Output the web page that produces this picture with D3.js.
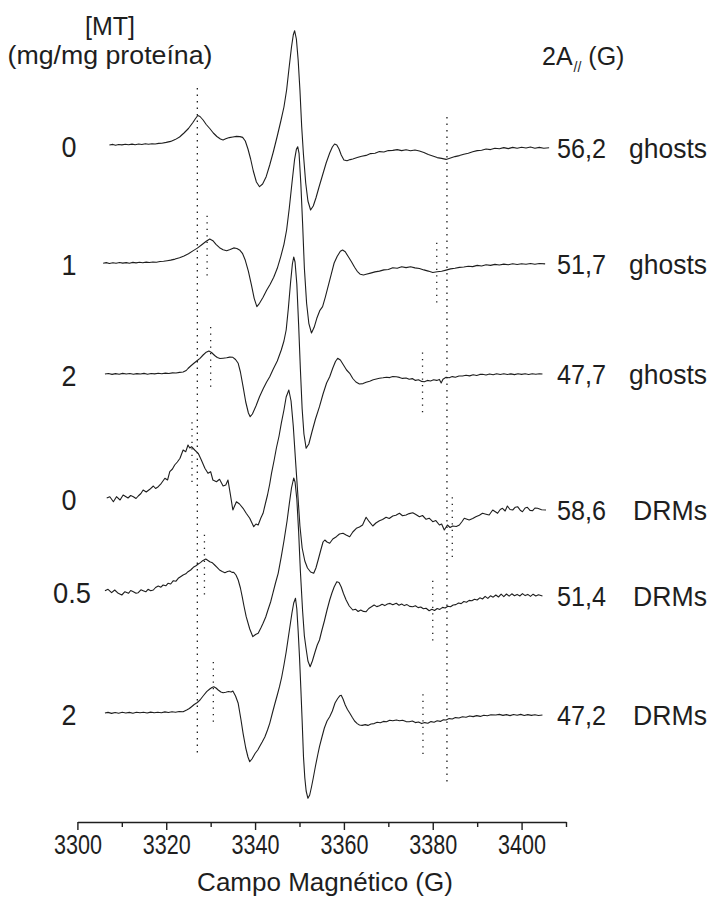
<!DOCTYPE html>
<html>
<head>
<meta charset="utf-8">
<script src="https://cdn.jsdelivr.net/npm/d3@7"></script>
<style>
  html, body { margin: 0; padding: 0; background: #fff; }
  svg { display: block; }
  text { font-family: "Liberation Sans", Arial, Helvetica, sans-serif; fill: #1e1e1e; }
</style>
</head>
<body>
<svg id="chart" width="710" height="899"></svg>
<script>
// EPR spectra of the spin label: [field (G), intensity (a.u., relative to each spectrum's baseline)]
const ghosts0 = [
  [3307.2,0],[3308,0.6],[3308.6,-0.3],[3309.3,0.5],[3310,0.1],[3310.8,0.8],[3311.5,0.2],[3312.3,0.9],[3313,0.3],[3313.8,1],
  [3314.5,0.5],[3315.3,1.2],[3316,0.7],[3316.8,1.3],[3317.5,1],[3318.3,1.6],[3319,1.8],[3320,2.6],[3321,3.6],[3322,5.4],
  [3323,8],[3324,12],[3325,16.5],[3326,22.5],[3326.6,26.5],[3327.1,29.5],[3327.6,28.5],[3328.3,25],[3329,20.5],[3329.8,16.5],
  [3330.6,12],[3331.4,8.5],[3332.2,6],[3332.8,5],[3333.4,6.2],[3334.2,7.4],[3335,8],[3335.8,8.6],[3336.6,8.4],[3337.2,7.6],
  [3337.8,4],[3338.4,-4],[3339,-14],[3339.6,-26],[3340.3,-37],[3341,-41.7],[3341.7,-39],[3342.5,-31.7],[3343.3,-20],[3344.1,-7],
  [3345,9],[3345.8,24],[3346.5,38],[3347.1,55],[3347.6,75],[3348.2,98],[3348.6,110],[3348.9,114.3],[3349.3,106],[3349.7,85],
  [3350.1,55],[3350.5,18],[3350.9,-10],[3351.4,-38],[3351.9,-56],[3352.5,-65],[3353.1,-61],[3353.7,-53],[3354.4,-42],[3355.2,-30],
  [3356,-18],[3356.8,-8],[3357.4,-2],[3357.9,1],[3358.4,0],[3358.9,-4],[3359.4,-10],[3360,-15],[3360.7,-15.7],[3361.4,-14.6],
  [3362,-14],[3363,-12.6],[3364,-11.2],[3365,-10.4],[3366,-8.6],[3367,-8.2],[3368,-6.6],[3369,-7],[3370,-5.6],[3371,-5.4],
  [3372,-4.6],[3373,-5.6],[3374,-4.8],[3375,-5.8],[3376,-5],[3377,-6],[3378,-7.4],[3379,-9.6],[3380,-11],[3381,-12.6],
  [3382,-13.4],[3383,-14.4],[3384,-13],[3385,-11.6],[3386,-10.6],[3387,-9.2],[3388,-8.2],[3389,-6.8],[3390,-5.6],[3391,-5.2],
  [3392,-4],[3393,-4.6],[3394,-3.2],[3395,-3.8],[3396,-2.6],[3397,-3.6],[3398,-2.4],[3399,-3.2],[3400,-2.2],[3401,-3],
  [3402,-2],[3403,-3.2],[3404,-2.4],[3405,-3.2],[3406.2,-2.8]
];
const ghosts1 = [
  [3305.8,0],[3306.5,0.7],[3307.2,-0.2],[3308,0.6],[3308.7,0],[3309.5,0.8],[3310.2,0.2],[3311,0.7],[3311.7,0.1],[3312.5,0.9],
  [3313.2,0.4],[3314,1],[3314.7,0.5],[3315.5,1.2],[3316.2,0.8],[3317,1.3],[3317.8,1.1],[3318.6,1.8],[3319.4,2],[3320.2,2.6],
  [3321,3.2],[3322,4.2],[3323,5.6],[3324,7.4],[3325,9.6],[3326,12.4],[3327,15.2],[3328,18.6],[3329,22],[3329.8,24.3],
  [3330.5,22.6],[3331.2,19],[3332,15.6],[3332.8,13.6],[3333.6,12.6],[3334.4,13.8],[3335.2,15.4],[3335.9,14.8],[3336.6,13],[3337.2,9.6],
  [3337.8,3],[3338.5,-8],[3339.2,-22],[3339.8,-35],[3340.4,-43.4],[3341,-40],[3341.8,-34],[3342.6,-27],[3343.4,-21],[3344.2,-14],
  [3345,-5],[3345.8,7],[3346.5,19],[3347.1,33.3],[3347.7,55],[3348.3,80],[3348.9,104],[3349.3,114],[3349.6,116.6],[3349.9,110],
  [3350.3,80],[3350.7,40],[3351.1,-5],[3351.6,-40],[3352.1,-60],[3352.7,-69.7],[3353.3,-64],[3353.9,-55],[3354.6,-47],[3355.2,-43.4],
  [3355.8,-34],[3356.5,-22],[3357.2,-10],[3357.8,0.3],[3358.5,7],[3359.2,12],[3359.7,13.3],[3360.3,11.5],[3361,6.5],[3361.7,1.5],
  [3362.4,-4],[3363,-8],[3363.7,-11],[3364.4,-11.7],[3365,-11],[3366,-9.8],[3367,-8.6],[3368,-7.8],[3369,-6.6],[3370,-6.2],
  [3371,-4.4],[3372,-4.9],[3373,-3.5],[3374,-4.3],[3375,-3.4],[3376,-4.6],[3377,-5.2],[3378,-6.6],[3379,-7.8],[3380,-9.2],
  [3381,-8.4],[3382,-7.9],[3383,-6.8],[3384,-5.6],[3385,-5],[3386,-4.1],[3387,-3.7],[3388,-2.9],[3389,-3.3],[3390,-2.1],
  [3391,-2.7],[3392,-1.5],[3393,-2.1],[3394,-1.1],[3395,-1.7],[3396,-0.8],[3397,-1.5],[3398,-0.5],[3399,-1.2],[3400,-0.4],
  [3401,-1],[3402,-0.2],[3403,-1],[3404,-0.2],[3405.3,-0.6]
];
const ghosts2 = [
  [3306.2,0],[3307,0.5],[3307.8,-0.4],[3308.6,0.4],[3309.4,-0.2],[3310.2,0.6],[3311,0],[3311.8,0.5],[3312.6,-0.3],[3313.4,0.4],
  [3314.2,0],[3315,0.6],[3315.8,-0.2],[3316.6,0.5],[3317.4,0.1],[3318.2,0.7],[3319,0.2],[3319.8,0.9],[3320.6,0.5],[3321.4,1.1],
  [3322.2,1],[3323,1.6],[3323.8,2],[3324.5,3.5],[3324.9,5.5],[3325.5,8],[3326.3,11],[3327,13.5],[3327.6,15.7],[3328.3,19],
  [3329,21.8],[3329.6,23],[3330.2,21.5],[3330.9,18.5],[3331.5,16.5],[3332.1,15.5],[3332.8,15.8],[3333.6,16.2],[3334.3,16.9],[3335,16.7],
  [3335.6,14.5],[3336.2,10.7],[3336.7,2],[3337.3,-12.7],[3337.9,-28],[3338.5,-39],[3338.9,-42.7],[3339.4,-40],[3340.2,-32],[3341,-22.7],
  [3341.8,-15],[3342.6,-8],[3343.3,-2.7],[3344.1,5],[3345,13],[3345.9,24],[3346.5,33],[3347,44],[3347.5,66],[3348,92],
  [3348.4,110],[3348.7,117],[3349,112],[3349.4,90],[3349.8,50],[3350.2,5],[3350.6,-35],[3351,-60],[3351.5,-74.3],[3352.1,-70],
  [3352.8,-58],[3353.6,-45],[3354.5,-32.7],[3355.3,-20],[3356.1,-9],[3356.8,-2.7],[3357.5,6],[3358.1,12.5],[3358.6,15.7],[3359.2,14],
  [3359.9,9],[3360.6,4],[3361.3,0.7],[3362,-4.5],[3362.7,-8],[3363.5,-10],[3364.3,-9.6],[3365,-8.2],[3365.8,-7.2],[3366.6,-5.8],
  [3367.3,-5],[3368,-4.3],[3368.8,-3.8],[3369.6,-3.2],[3370.3,-3.6],[3371,-2.6],[3371.8,-2.7],[3372.5,-3.4],[3373.2,-4.4],[3374,-4],
  [3374.7,-5.3],[3375.4,-4.6],[3376.1,-6.4],[3376.8,-5.8],[3377.5,-7.4],[3378.1,-7.7],[3378.8,-6.4],[3379.5,-7],[3380.2,-5.8],[3380.9,-6.4],
  [3381.5,-5.4],[3381.9,-9],[3382.3,-5.2],[3383,-3.3],[3383.7,-3.8],[3384.4,-2.6],[3385.1,-3.2],[3385.9,-2],[3386.7,-2],[3387.5,-1.2],
  [3388.3,-1.9],[3389.1,-0.8],[3389.9,-1.5],[3390.6,-0.4],[3391.2,-0.3],[3392,-1],[3392.8,0],[3393.6,-0.7],[3394.4,0.2],[3395.2,-0.5],
  [3396,0.3],[3396.8,-0.5],[3397.6,0.1],[3398.4,-0.6],[3399.2,0.2],[3400,-0.4],[3400.8,0.3],[3401.6,-0.5],[3402.4,0.2],[3403.2,-0.3],
  [3404,0.3],[3404.7,0]
];
const drms0 = [
  [3306.6,0],[3307.3,1.3],[3308.1,-3.7],[3308.8,1.3],[3309.6,-2],[3310.3,3],[3311.4,0],[3312,2.5],[3312.6,1.3],[3313.2,-0.5],
  [3313.7,2],[3314.3,4.5],[3314.8,8],[3315.5,6],[3316.3,8.7],[3317.1,12],[3317.6,9.5],[3318.2,11.3],[3318.9,14.7],[3319.7,19.7],
  [3320.3,18],[3320.8,26.3],[3321.4,29],[3321.9,33],[3322.5,36],[3323.1,39.7],[3323.8,48],[3324.4,46.3],[3324.9,53],[3325.3,50],
  [3325.7,51.3],[3326.4,48],[3327.2,44.7],[3327.9,38],[3328.7,29.7],[3329.4,24.7],[3330,26.3],[3330.5,18],[3331.3,16.3],[3332,18.7],
  [3332.8,12],[3333.4,13],[3333.9,18],[3334.4,4.7],[3335,-12],[3335.8,-3.7],[3336.5,-6],[3337.3,-10.3],[3338,-15.3],[3338.8,-20.3],
  [3339.7,-28.7],[3340.2,-26],[3340.7,-27],[3341.3,-20],[3341.8,-15.3],[3342.3,-6],[3342.8,3],[3343.3,14],[3343.7,24.7],[3344.3,38],
  [3344.8,50],[3345.4,62],[3345.9,74.7],[3346.5,88],[3347,101],[3347.6,108],[3348.1,97],[3348.6,72],[3349.1,38],[3349.6,5],
  [3350.1,-28],[3350.6,-50],[3351.2,-63],[3351.8,-70],[3352.5,-74],[3353.2,-75.3],[3353.7,-70],[3354.2,-62],[3354.8,-52],[3355.3,-44],
  [3355.7,-42],[3356.2,-44],[3356.8,-45.3],[3357.5,-41],[3358.3,-38.7],[3359,-36],[3359.8,-35.3],[3360.5,-37],[3361.3,-38.7],[3362,-34],
  [3362.8,-30.3],[3363.5,-29],[3364.2,-27],[3364.6,-23],[3365,-19.3],[3365.7,-23.7],[3366.5,-28],[3367.2,-25],[3368,-22.7],[3368.7,-21.5],
  [3369.5,-19.3],[3370.2,-20.5],[3371,-18],[3371.7,-17.2],[3372.5,-15.3],[3373.2,-17.8],[3374,-17],[3374.7,-15.6],[3375.5,-14.7],[3376.2,-16.5],
  [3377,-18.7],[3377.7,-17.5],[3378.5,-21.3],[3379.2,-20.2],[3380,-23.7],[3380.7,-22.6],[3381.5,-27],[3382,-26],[3382.6,-32],[3383.3,-27],
  [3383.9,-29.5],[3384.5,-28],[3385.3,-28.5],[3386,-27],[3386.6,-23.5],[3387.1,-20.3],[3388.2,-22],[3389,-20.5],[3389.7,-18.7],[3390.5,-17.2],
  [3391.2,-15.3],[3392,-16.2],[3392.7,-17],[3393.5,-12],[3394.6,-15.3],[3395.2,-11.5],[3395.7,-10.3],[3396.3,-13],[3396.8,-8],[3397.4,-11.5],
  [3398,-12],[3398.6,-9.2],[3399.1,-8.7],[3399.7,-12.2],[3400.2,-13.7],[3400.8,-10],[3401.3,-9.3],[3401.9,-12.4],[3402.5,-12.7],[3403,-10],
  [3403.6,-10.3],[3404.5,-11.8],[3405.5,-12]
];
const drms05 = [
  [3306.2,0.3],[3306.9,1.7],[3307.7,-1.7],[3308.4,1],[3309.2,-2.3],[3310,-4],[3310.7,-0.7],[3311.5,-2.3],[3312,0.5],[3312.6,-0.7],
  [3313.2,-2.2],[3313.7,-1.7],[3314.3,1.2],[3314.8,0.3],[3315.4,-0.8],[3315.9,1.7],[3316.5,0.2],[3317.1,1],[3317.6,3.5],[3318.2,5],
  [3318.8,3.8],[3319.3,6],[3319.9,5.2],[3320.4,7.7],[3321,7],[3321.6,10.3],[3322.2,9.8],[3322.7,12.7],[3323.3,14.5],[3323.8,16],
  [3324.4,17.2],[3324.9,19.3],[3325.5,21],[3326.1,23.7],[3326.7,25.2],[3327.2,27],[3327.7,28.4],[3328.2,30.3],[3328.9,32],[3329.4,30.5],
  [3329.8,29.3],[3330.4,28.2],[3330.9,26],[3331.5,23.4],[3332,21],[3332.6,19.5],[3333.2,18.3],[3333.8,19.5],[3334.3,20],[3334.8,18.6],
  [3335.2,18.7],[3335.7,16],[3336.2,11],[3336.7,3],[3337.1,-5.7],[3337.5,-15],[3338,-25.7],[3338.8,-38],[3339.5,-45.7],[3340.1,-43.5],
  [3340.7,-42.3],[3341.3,-37],[3341.8,-32.3],[3342.4,-26],[3342.9,-19],[3343.5,-11],[3344,-2.3],[3344.6,8],[3345.2,17.7],[3345.9,34.3],
  [3346.5,50],[3347.2,70],[3347.7,87],[3348.2,103],[3348.7,113],[3349,109],[3349.4,92],[3349.8,60],[3350.2,20],[3350.7,-20],
  [3351.1,-45],[3351.5,-58],[3351.9,-70],[3352.4,-75.7],[3352.9,-70],[3353.5,-61],[3354,-54],[3354.5,-49],[3355,-40],[3355.6,-30],
  [3356.2,-19],[3356.8,-9],[3357.3,-2],[3357.8,4],[3358.4,9.3],[3358.9,8.5],[3359.4,4],[3359.9,-2.5],[3360.5,-9],[3361.2,-15],
  [3362,-19],[3362.6,-18.2],[3363.2,-20.5],[3363.8,-19],[3364.4,-20.4],[3365,-20.7],[3365.6,-17.5],[3366.2,-15.8],[3366.8,-14],[3367.4,-15.6],
  [3368,-14.8],[3368.6,-13.2],[3369.2,-14.6],[3369.8,-13],[3370.4,-12.4],[3371,-13.8],[3371.8,-12.3],[3372.4,-14.2],[3373,-13],[3373.6,-14.6],
  [3374.2,-13.6],[3374.8,-15.4],[3375.5,-15.7],[3376.1,-14.8],[3376.7,-16.6],[3377.3,-16],[3377.9,-17.8],[3378.5,-17.2],[3379.2,-19.7],[3379.8,-18.3],
  [3380.4,-19.5],[3381,-17.5],[3381.6,-18.4],[3382.2,-16.4],[3382.8,-17],[3383.4,-15.2],[3384,-15.8],[3384.6,-14],[3385.2,-13.6],[3385.8,-12],
  [3386.4,-12.6],[3387,-10.5],[3387.6,-11.2],[3388.2,-9.4],[3388.8,-9.8],[3389.4,-8.2],[3390,-9],[3390.6,-6.8],[3391.2,-8],[3391.8,-5.4],
  [3392.4,-7.4],[3393,-4.8],[3393.6,-6.2],[3394.2,-4],[3394.8,-6],[3395.4,-3.2],[3396,-5.6],[3396.6,-3],[3397.2,-5.2],[3397.8,-2.8],
  [3398.4,-4.8],[3399,-3.4],[3399.6,-5],[3400.2,-2.6],[3400.8,-4.6],[3401.4,-3.4],[3402,-5.4],[3402.6,-3.2],[3403.2,-5],[3403.8,-3.8],
  [3404.7,-5]
];
const drms2 = [
  [3306.2,0],[3306.9,0.6],[3307.7,-0.4],[3308.5,0.5],[3309.3,-0.3],[3310.1,0.7],[3310.9,0],[3311.7,0.6],[3312.5,-0.2],[3313.3,0.8],
  [3314.1,0.2],[3314.9,0.7],[3315.7,0],[3316.5,0.9],[3317.3,0.3],[3318.1,0.8],[3318.9,0.2],[3319.7,1.1],[3320.5,0.5],[3321.3,1.2],
  [3322.1,0.8],[3322.9,1.5],[3323.8,1.3],[3324.6,3],[3325.2,4.5],[3325.7,6.3],[3326.3,8.5],[3327,10.5],[3327.6,13],[3328.3,17],
  [3329.1,21.3],[3329.8,24],[3330.3,25.5],[3330.7,26.3],[3331.2,25],[3331.7,23],[3332.3,21],[3332.8,20.3],[3333.4,20.8],[3334,21.5],
  [3334.6,21],[3335,22],[3335.6,17],[3336.2,9.7],[3336.8,-6],[3337.3,-20.3],[3337.9,-35],[3338.4,-44],[3338.8,-48.7],[3339.3,-46],
  [3340,-40.5],[3340.6,-37],[3341,-33.7],[3341.6,-29],[3342.2,-24],[3342.8,-17],[3343.3,-10.3],[3343.9,0],[3344.5,10],[3345,18],
  [3345.5,26.3],[3346,36],[3346.5,48],[3347,61],[3347.4,73],[3347.9,88],[3348.3,100],[3348.7,110],[3349.1,114.7],[3349.4,104],
  [3349.7,82],[3350,56.3],[3350.3,25],[3350.6,-8],[3350.9,-43.7],[3351.2,-65],[3351.5,-78],[3351.9,-85.3],[3352.3,-82],[3352.7,-74],
  [3353.1,-65],[3353.6,-53],[3354.1,-42],[3354.5,-33.7],[3355,-25],[3355.6,-15],[3356.2,-8],[3356.8,-3.7],[3357.4,2],[3358,10],
  [3358.6,14.5],[3359.1,17.3],[3359.4,17.7],[3359.8,14],[3360.3,8],[3360.8,3.5],[3361.3,0],[3361.9,-4.5],[3362.4,-8],[3363,-10.6],
  [3363.5,-12],[3364.1,-12.4],[3364.8,-11.6],[3365.4,-12.4],[3366.1,-11],[3366.8,-10.6],[3367.5,-9.2],[3368.2,-9.8],[3368.9,-8.4],[3369.6,-8.8],
  [3370.3,-7.2],[3371,-7.8],[3371.8,-7],[3372.5,-7.8],[3373.2,-7.2],[3374,-8.6],[3374.7,-8.7],[3375.4,-8],[3376.1,-9.6],[3376.8,-9],
  [3377.5,-10.6],[3378.2,-9.6],[3378.9,-10.2],[3379.6,-8.6],[3380.3,-9.2],[3381,-7.8],[3381.7,-8.4],[3382.4,-6.8],[3383,-7],[3383.7,-5.6],
  [3384.4,-6],[3385.1,-4.6],[3385.9,-5],[3386.7,-3.7],[3387.5,-4.2],[3388.3,-3],[3389.1,-3.6],[3389.9,-2.6],[3390.7,-3.4],[3391.5,-2.2],
  [3392.3,-2.8],[3393.1,-1.8],[3394.2,-2],[3395,-1.4],[3395.8,-2.4],[3396.6,-1.6],[3397.4,-2.6],[3398.2,-1.5],[3399,-2.3],[3399.8,-1.4],
  [3400.6,-2.5],[3401.4,-1.6],[3402.2,-2.4],[3403,-1.7],[3403.8,-2.5],[3404.7,-2]
];

// Sample description of each spectrum, top to bottom
const mtConcentration = ["0", "1", "2", "0", "0.5", "2"];   // [MT] (mg/mg proteína)
const preparation = ["ghosts", "ghosts", "ghosts", "DRMs", "DRMs", "DRMs"];
const splitting2A = [56.2, 51.7, 47.7, 58.6, 51.4, 47.2];   // 2A// (G)
const lowFieldLine = [3327.0, 3329.2, 3330.0, 3325.8, 3328.6, 3330.6]; // low-field extremum (G)
const stackOffset = [677, 558.7, 448, 324, 231, 109];      // vertical shift of each spectrum (a.u.)
const fieldTicks = [3300, 3310, 3320, 3330, 3340, 3350, 3360, 3370, 3380, 3390, 3400, 3410];

const spectra = [ghosts0, ghosts1, ghosts2, drms0, drms05, drms2];

const svg = d3.select("#chart");
const x = d3.scaleLinear().domain([3300, 3410]).range([77.4, 566]);
const y = d3.scaleLinear().domain([0, 800]).range([822, 22]);

const ink = "#1e1e1e";

// intensity of a spectrum at a given field (linear between recorded points)
const bis = d3.bisector(d => d[0]).left;
function valueAt(spec, f) {
  const i = Math.min(Math.max(bis(spec, f), 1), spec.length - 1);
  const a = spec[i - 1], b = spec[i];
  const t = (f - a[0]) / (b[0] - a[0]);
  return a[1] + t * (b[1] - a[1]);
}

// dotted markers at the outer hyperfine extrema (separation = 2A//)
const markers = svg.append("g")
  .attr("stroke", ink).attr("stroke-width", 1.3)
  .attr("stroke-dasharray", "1.3 5.2").attr("fill", "none");
spectra.forEach((spec, i) => {
  const lf = lowFieldLine[i];
  const hf = lf + splitting2A[i];
  const off = stackOffset[i];
  const cL = valueAt(spec, lf) - 6 + off;
  const cH = valueAt(spec, hf) - 2 + off;
  let L = [cL + 31, cL - 31], H = [cH + 31, cH - 31];
  if (i === 0) { // reference guides for the first spectrum run down the whole stack
    L = [cL + 34, stackOffset[5] - 42];
    H = [cH + 44, stackOffset[5] - 70];
  }
  markers.append("line").attr("x1", x(lf)).attr("x2", x(lf)).attr("y1", y(L[0])).attr("y2", y(L[1]));
  markers.append("line").attr("x1", x(hf)).attr("x2", x(hf)).attr("y1", y(H[0])).attr("y2", y(H[1]));
});

// spectra
const line = d3.line().curve(d3.curveLinear);
spectra.forEach((spec, i) => {
  svg.append("path")
    .attr("d", line.x(d => x(d[0])).y(d => y(d[1] + stackOffset[i]))(spec))
    .attr("fill", "none").attr("stroke", ink).attr("stroke-width", 1.1)
    .attr("stroke-linejoin", "round");
});

// left labels: MT concentration
spectra.forEach((spec, i) => {
  const yb = y(stackOffset[i] + spec[0][1]);
  svg.append("text")
    .attr("x", mtConcentration[i].length > 1 ? 72 : 69)
    .attr("y", yb + 12)
    .attr("text-anchor", "middle")
    .attr("font-size", 29)
    .attr("textLength", mtConcentration[i].length > 1 ? 38 : 15)
    .attr("lengthAdjust", "spacingAndGlyphs")
    .text(mtConcentration[i]);
});

// right labels: 2A// value and preparation
spectra.forEach((spec, i) => {
  const ye = y(stackOffset[i] + spec[spec.length - 1][1]) + 10;
  svg.append("text")
    .attr("x", 557).attr("y", ye)
    .attr("font-size", 28)
    .attr("textLength", 49).attr("lengthAdjust", "spacingAndGlyphs")
    .text(d3.format(".1f")(splitting2A[i]).replace(".", ","));
  svg.append("text")
    .attr("x", 707).attr("y", ye)
    .attr("text-anchor", "end")
    .attr("font-size", 28)
    .attr("textLength", preparation[i] === "DRMs" ? 74 : 78).attr("lengthAdjust", "spacingAndGlyphs")
    .text(preparation[i]);
});

// column headers
svg.append("text").attr("x", 110).attr("y", 35).attr("text-anchor", "middle")
  .attr("font-size", 25).text("[MT]");
svg.append("text").attr("x", 110).attr("y", 64).attr("text-anchor", "middle")
  .attr("font-size", 25).attr("textLength", 205).attr("lengthAdjust", "spacingAndGlyphs")
  .text("(mg/mg proteína)");
const hdr = svg.append("text").attr("x", 542).attr("y", 65).attr("font-size", 25);
hdr.append("tspan").text("2A");
hdr.append("tspan").attr("font-size", 14).attr("dy", 7).attr("dx", 1).text("//");
hdr.append("tspan").attr("dy", -7).text(" (G)");

// field axis
const axis = d3.axisBottom(x)
  .tickValues(fieldTicks)
  .tickSize(8)
  .tickSizeOuter(0)
  .tickFormat(d => d % 20 === 0 ? d : "");
const gAxis = svg.append("g").attr("transform", "translate(0,822)").call(axis);
gAxis.select(".domain").attr("stroke", ink).attr("stroke-width", 1.4);
gAxis.selectAll(".tick line").attr("stroke", ink).attr("stroke-width", 1.4)
  .attr("y2", d => d % 20 === 0 ? 8 : 5);
gAxis.selectAll(".tick text")
  .attr("y", 32).attr("dy", null)
  .attr("font-size", 27)
  .attr("font-family", "\"Liberation Sans\", Arial, sans-serif")
  .attr("fill", ink)
  .each(function(d) {
    if (d % 20 === 0) d3.select(this).attr("textLength", 48).attr("lengthAdjust", "spacingAndGlyphs");
  });

svg.append("text").attr("x", 325).attr("y", 891).attr("text-anchor", "middle")
  .attr("font-size", 26).text("Campo Magnético (G)");
</script>
</body>
</html>
